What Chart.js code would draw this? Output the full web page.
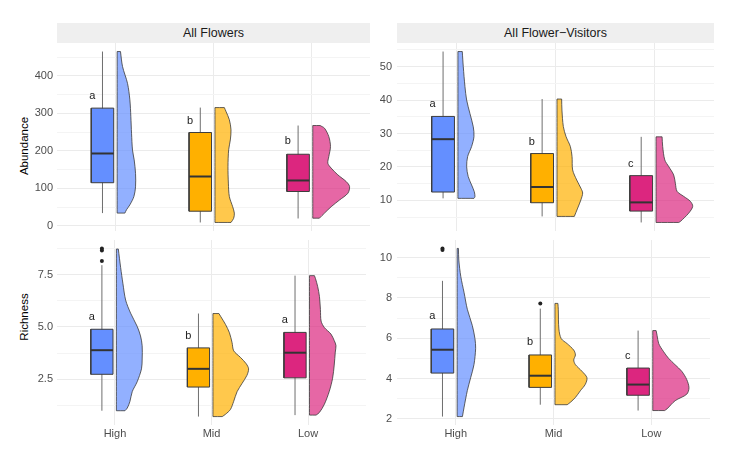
<!DOCTYPE html>
<html>
<head>
<meta charset="utf-8">
<script src="https://cdn.jsdelivr.net/npm/chart.js@4.4.0/dist/chart.umd.min.js"></script>
<style>
  body { margin: 0; background: #fff; font-family: "Liberation Sans", Arial, sans-serif; }
  #wrap { position: relative; width: 749px; height: 464px; overflow: hidden; }
  canvas { position: absolute; }
  .strip { position: absolute; top: 23px; height: 20px; background: #EFEFEF; color: #1a1a1a; font-size: 12.5px; line-height: 20px; text-align: center; }
  .ytitle { position: absolute; font-size: 11.5px; color: #000; transform: translate(-50%, -50%) rotate(-90deg); white-space: nowrap; }
</style>
</head>
<body>
<div id="wrap">
  <div class="strip" style="left:57px; width:313px;">All Flowers</div>
  <div class="strip" style="left:397px; width:317px;">All Flower−Visitors</div>
  <div class="ytitle" style="left:24px; top:146px;">Abundance</div>
  <div class="ytitle" style="left:24px; top:317px;">Richness</div>
  <canvas id="c1" width="370" height="188" style="left:0; top:43px;"></canvas>
  <canvas id="c2" width="344" height="188" style="left:370px; top:43px;"></canvas>
  <canvas id="c3" width="370" height="213" style="left:0; top:236px;"></canvas>
  <canvas id="c4" width="344" height="213" style="left:370px; top:236px;"></canvas>
</div>
<script>
const groups = ['High', 'Mid', 'Low']

// box stats per group: lower whisker, q1, median, q3, upper whisker
const abundFlowersBox = [[34, 115, 193, 314, 465], [9, 39, 131.6, 249, 315.5], [19.6, 91.6, 121, 191, 267.6]]
const abundFlowersOut = [[], [], []]
const abundFlowersLetters = [['a', 347], ['b', 281], ['b', 227]]
// violin outline: [value, half width]
const abundFlowersViolin = [
    [[465, .034], [425, .055], [380, .106], [336, .13], [291, .14], [247, .147], [202, .157], [176, .174], [140, .188], [104, .188], [78, .171], [56, .13], [43, .096], [34, .079]],
    [[315.5, .096], [305, .113], [283, .147], [256, .164], [229, .157], [203, .14], [158, .133], [114, .137], [78, .147], [51, .181], [34, .198], [20, .191], [9, .164]],
    [[267.6, .075], [260.4, .12], [238, .164], [211.6, .181], [184.9, .164], [167, .154], [154, .188], [136, .256], [118, .342], [105, .376], [87, .359], [69, .274], [51, .188], [34, .12], [20.4, .068]]
]

const abundVisitorsBox = [[10.6, 12.5, 28.3, 35.1, 54.5], [5.2, 9.3, 14, 24, 40.3], [3.4, 6.8, 9.4, 17.4, 29]]
const abundVisitorsOut = [[], [], []]
const abundVisitorsLetters = [['a', 38.8], ['b', 27.4], ['c', 21.0]]
const abundVisitorsViolin = [
    [[54.5, .044], [50, .054], [44, .071], [40, .088], [36, .121], [32, .155], [29.1, .162], [26.1, .138], [23.1, .098], [20.1, .088], [17.1, .104], [14.6, .138], [12.6, .165], [11.1, .172], [10.6, .162]],
    [[40.3, .047], [37, .05], [32.1, .064], [29.1, .091], [26.1, .135], [23.1, .152], [19.1, .158], [16.1, .199], [13.6, .242], [12.2, .259], [10.2, .242], [7.7, .209], [5.2, .175]],
    [[29, .061], [26.1, .067], [22.1, .088], [20.1, .128], [17.6, .178], [15.1, .195], [12.7, .212], [11.2, .279], [9.7, .347], [8.2, .37], [6.2, .33], [3.7, .246], [3.4, .229]]
]

const richFlowersBox = [[1.0, 2.74, 3.89, 4.89, 7.95], [0.72, 2.13, 3.0, 4.0, 5.64], [0.79, 2.57, 3.77, 4.74, 7.45]]
const richFlowersOut = [[8.15, 8.65, 8.75], [], []]
const richFlowersLetters = [['a', 5.47], ['b', 4.58], ['a', 5.33]]
const richFlowersViolin = [
    [[8.72, .02], [7.84, .044], [7.06, .068], [6.28, .096], [5.66, .147], [5.03, .215], [4.57, .25], [4.1, .267], [3.47, .267], [3.0, .26], [2.38, .215], [1.91, .164], [1.44, .14], [1.13, .113], [1.0, .089]],
    [[5.64, .062], [5.51, .079], [5.12, .13], [4.72, .171], [4.25, .198], [3.86, .215], [3.55, .284], [3.24, .345], [3.0, .369], [2.69, .352], [2.3, .301], [1.91, .25], [1.45, .215], [1.06, .181], [0.83, .13], [0.72, .096]],
    [[7.45, .051], [7.31, .062], [6.92, .085], [6.45, .103], [5.83, .113], [5.28, .12], [4.97, .154], [4.66, .222], [4.35, .256], [4.11, .274], [3.8, .267], [3.18, .256], [2.55, .239], [1.93, .205], [1.31, .154], [0.92, .103], [0.79, .068]]
]

const richVisitorsBox = [[2.11, 4.27, 5.43, 6.46, 8.85], [2.7, 3.56, 4.14, 5.17, 7.47], [2.41, 3.17, 3.7, 4.52, 6.38]]
const richVisitorsOut = [[10.38, 10.46], [7.73], []]
const richVisitorsLetters = [['a', 7.11], ['b', 5.81], ['c', 5.13]]
const richVisitorsViolin = [
    [[10.46, .013], [9.88, .017], [9.07, .037], [8.26, .071], [7.44, .104], [6.63, .155], [5.98, .182], [5.5, .189], [4.69, .172], [4.04, .138], [3.4, .104], [2.58, .071], [2.11, .054]],
    [[7.73, .03], [7.44, .034], [6.46, .04], [5.98, .064], [5.73, .125], [5.41, .192], [5.17, .209], [4.92, .192], [4.69, .209], [4.36, .276], [4.04, .327], [3.71, .31], [3.39, .259], [3.06, .209], [2.82, .158], [2.7, .125]],
    [[6.38, .034], [6.14, .044], [5.73, .061], [5.33, .111], [5.0, .162], [4.68, .229], [4.36, .296], [3.95, .347], [3.54, .37], [3.22, .347], [2.9, .229], [2.49, .145], [2.41, .121]]
]

// y ticks (major get labels, minor only grid)
const abundFlowersTicks = [0, 100, 200, 300, 400]
const abundFlowersMinor = [50, 150, 250, 350, 450]
const abundVisitorsTicks = [10, 20, 30, 40, 50]
const abundVisitorsMinor = [5, 15, 25, 35, 45, 55]
const richFlowersTicks = [2.5, 5, 7.5]
const richFlowersMinor = [1.25, 3.75, 6.25, 8.75]
const richVisitorsTicks = [2, 4, 6, 8, 10]
const richVisitorsMinor = [3, 5, 7, 9]

const boxColors = ['#648FFF', '#FFB000', '#DC267F']
const violinColors = ['rgba(100,143,255,0.7)', 'rgba(255,176,0,0.7)', 'rgba(220,38,127,0.7)']
const FONT = '"Liberation Sans", Arial, sans-serif'

const lettersPlugin = {
    id: 'letters',
    afterDatasetsDraw(chart, args, opts) {
        const {ctx, scales: {x, y}} = chart
        ctx.save()
        ctx.font = '11px ' + FONT
        ctx.fillStyle = '#222'
        ctx.textAlign = 'center'
        ctx.textBaseline = 'middle'
        opts.items.forEach((l, i) => {
            ctx.fillText(l[0], x.getPixelForValue(i + 1 - 0.24), y.getPixelForValue(l[1]))
        })
        ctx.restore()
    }
}

function makePanel(id, box, outs, letters, violins, majors, minors, fmt, yWidth, yPad, showX) {
    const all = []
    box.forEach(b => all.push(b[0], b[4]))
    outs.forEach(o => all.push(...o))
    violins.forEach(v => all.push(v[0][0], v[v.length - 1][0]))
    const lo = Math.min(...all)
    const hi = Math.max(...all)
    const pad = (hi - lo) * 0.05

    const datasets = []
    groups.forEach((g, i) => {
        const x = i + 1
        const b = box[i]
        const v = violins[i]
        const n = v.length
        const base = x + 0.015
        const bl = x - 0.25
        const br = x - 0.02
        const wx = x - 0.135

        // half violin: right edge top -> bottom, then up the flat side
        // corners doubled so the smoothing keeps them sharp
        const vpts = [{x: base, y: v[0][0]}]
        v.forEach((p, k) => {
            vpts.push({x: base + p[1], y: p[0]})
            if (k == 0 || k == n - 1) vpts.push({x: base + p[1], y: p[0]})
        })
        vpts.push({x: base, y: v[n - 1][0]})
        for (let k = n - 1; k >= 0; k--) vpts.push({x: base, y: v[k][0]})
        datasets.push({
            data: vpts, showLine: true, fill: 'shape', tension: 0.3,
            backgroundColor: violinColors[i], borderColor: '#3a3a3a', borderWidth: 0.8,
            pointRadius: 0, order: 5
        })
        datasets.push({
            data: [{x: wx, y: b[0]}, {x: wx, y: b[4]}], showLine: true,
            borderColor: '#6e6e6e', borderWidth: 1, pointRadius: 0, order: 4
        })
        datasets.push({
            data: [{x: bl, y: b[1]}, {x: br, y: b[1]}, {x: br, y: b[3]}, {x: bl, y: b[3]}, {x: bl, y: b[1]}],
            showLine: true, fill: 'shape', backgroundColor: boxColors[i],
            borderColor: '#3d3d3d', borderWidth: 1, pointRadius: 0, order: 3
        })
        datasets.push({
            data: [{x: bl, y: b[2]}, {x: br, y: b[2]}], showLine: true,
            borderColor: '#333', borderWidth: 2, pointRadius: 0, order: 2
        })
        if (outs[i].length) {
            datasets.push({
                data: outs[i].map(o => ({x: wx, y: o})), showLine: false,
                pointRadius: 2, pointBackgroundColor: '#222', pointBorderWidth: 0, order: 1
            })
        }
    })

    return new Chart(document.getElementById(id), {
        type: 'scatter',
        data: {datasets: datasets},
        plugins: [lettersPlugin],
        options: {
            responsive: false,
            animation: false,
            layout: {padding: 0},
            plugins: {legend: {display: false}, tooltip: {enabled: false}, letters: {items: letters}},
            scales: {
                x: {
                    type: 'linear', min: 0.4, max: 3.6,
                    afterBuildTicks: s => { s.ticks = [1, 2, 3].map(t => ({value: t})) },
                    ticks: {display: showX, callback: t => groups[t - 1], color: '#4d4d4d', font: {size: 11, family: FONT}, padding: 2, autoSkip: false, maxRotation: 0},
                    grid: {color: '#EBEBEB', drawTicks: false},
                    border: {display: false},
                    afterFit: s => { s.height = showX ? 24 : 0; s.paddingLeft = 0; s.paddingRight = 0 }
                },
                y: {
                    type: 'linear', min: lo - pad, max: hi + pad,
                    afterBuildTicks: s => { s.ticks = majors.concat(minors).sort((a, b) => a - b).map(t => ({value: t})) },
                    ticks: {callback: t => majors.includes(t) ? fmt(t) : '', color: '#4d4d4d', font: {size: 11, family: FONT}, padding: yPad, autoSkip: false},
                    grid: {color: c => (c.tick && majors.includes(c.tick.value)) ? '#EBEBEB' : '#F4F4F4', drawTicks: false},
                    border: {display: false},
                    afterFit: s => { s.width = yWidth; s.paddingTop = 0; s.paddingBottom = 0 }
                }
            }
        }
    })
}

makePanel('c1', abundFlowersBox, abundFlowersOut, abundFlowersLetters, abundFlowersViolin, abundFlowersTicks, abundFlowersMinor, t => String(t), 57, 4, false)
makePanel('c2', abundVisitorsBox, abundVisitorsOut, abundVisitorsLetters, abundVisitorsViolin, abundVisitorsTicks, abundVisitorsMinor, t => String(t), 27, 5, false)
makePanel('c3', richFlowersBox, richFlowersOut, richFlowersLetters, richFlowersViolin, richFlowersTicks, richFlowersMinor, t => t.toFixed(1), 57, 4, true)
makePanel('c4', richVisitorsBox, richVisitorsOut, richVisitorsLetters, richVisitorsViolin, richVisitorsTicks, richVisitorsMinor, t => String(t), 27, 5, true)
</script>
</body>
</html>
